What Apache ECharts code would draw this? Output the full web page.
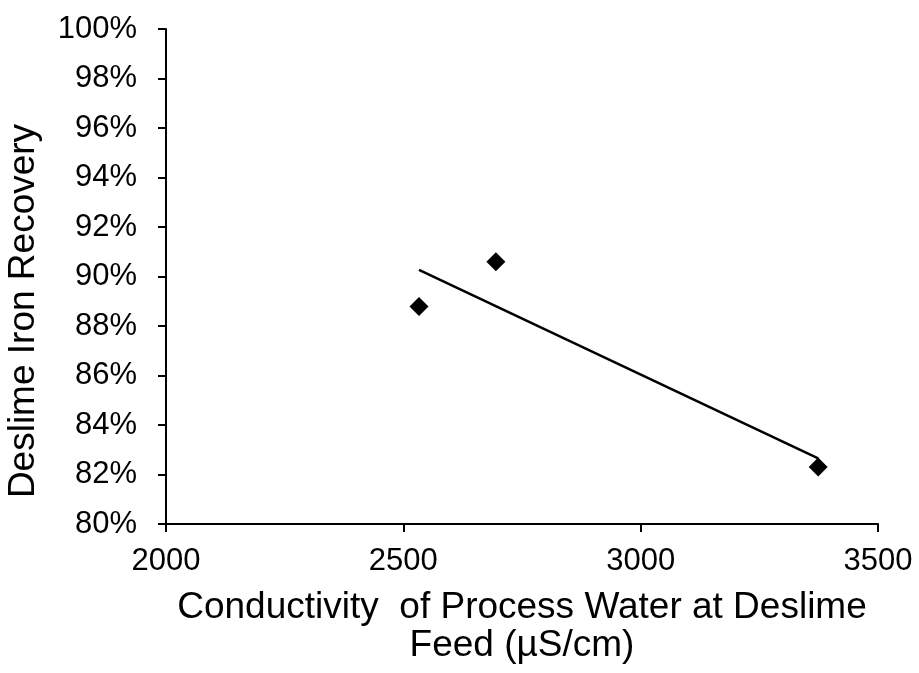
<!DOCTYPE html>
<html>
<head>
<meta charset="utf-8">
<script src="https://cdn.jsdelivr.net/npm/echarts@6/dist/echarts.min.js"></script>
<style>html,body{margin:0;padding:0;background:#fff;}#c{width:919px;height:673px;}</style>
</head>
<body>
<div id="c"></div>
<script>
// Data
var conductivity = [2533, 2695, 3374];
var recovery = [88.79, 90.60, 82.30];
var trendX = [2533, 3374];
var trendY = [90.27, 82.65];
var xTicks = [2000, 2500, 3000, 3500];
var yTicks = [80, 82, 84, 86, 88, 90, 92, 94, 96, 98, 100];

var FONT = '"Liberation Sans", Arial, sans-serif';
var chart = echarts.init(document.getElementById('c'));
chart.setOption({
  animation: false,
  backgroundColor: '#fff',
  grid: { left: 166, right: 41, top: 29, bottom: 149, containLabel: false },
  xAxis: {
    type: 'value', min: 2000, max: 3500, interval: 500,
    axisLine: { show: true, onZero: false, lineStyle: { color: '#000', width: 2 } },
    axisTick: { show: true, inside: false, length: 8, lineStyle: { color: '#000', width: 2 } },
    splitLine: { show: false },
    axisLabel: { color: '#000', fontFamily: FONT, fontSize: 31, margin: 22,
      formatter: function (v) { return xTicks.indexOf(v) >= 0 ? String(v) : ''; } },
    name: 'Conductivity  of Process Water at Deslime\nFeed (µS/cm)',
    nameLocation: 'middle', nameGap: 65,
    nameTextStyle: { color: '#000', fontFamily: FONT, fontSize: 37, lineHeight: 38, verticalAlign: 'top' }
  },
  yAxis: {
    type: 'value', min: 80, max: 100, interval: 2,
    axisLine: { show: true, onZero: false, lineStyle: { color: '#000', width: 2 } },
    axisTick: { show: true, inside: false, length: 8, lineStyle: { color: '#000', width: 2 } },
    splitLine: { show: false },
    axisLabel: { color: '#000', fontFamily: FONT, fontSize: 31, margin: 29,
      formatter: function (v) { return yTicks.indexOf(v) >= 0 ? v + '%' : ''; } }
  },
  graphic: [{
    type: 'text', x: 24, y: 311,
    style: { text: 'Deslime Iron Recovery', fill: '#000', font: '37px ' + FONT,
      align: 'center', verticalAlign: 'middle' },
    rotation: Math.PI / 2
  }],
  series: [{
    type: 'scatter', symbol: 'diamond', symbolSize: 19,
    itemStyle: { color: '#000', opacity: 1 },
    data: conductivity.map(function (x, i) { return [x, recovery[i]]; }),
    z: 3
  }, {
    type: 'line', symbol: 'none', silent: true,
    lineStyle: { color: '#000', width: 2.5 },
    data: trendX.map(function (x, i) { return [x, trendY[i]]; }),
    z: 2
  }]
});
</script>
</body>
</html>
